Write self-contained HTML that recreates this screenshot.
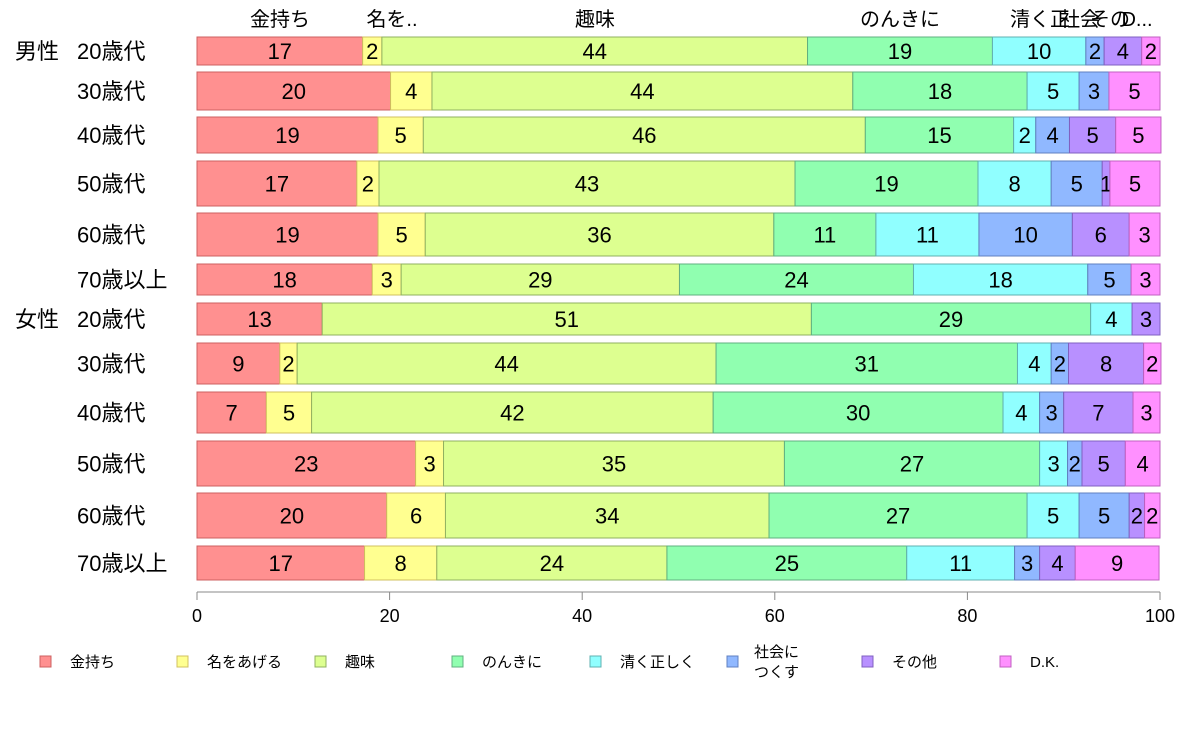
<!DOCTYPE html>
<html><head><meta charset="utf-8">
<style>
body{margin:0;background:#fff;}
svg text{font-family:"Liberation Sans","Noto Sans CJK JP",sans-serif;}
</style></head>
<body>
<svg id="chart" width="1188" height="736" viewBox="0 0 1188 736" xmlns="http://www.w3.org/2000/svg"></svg>
<script>
const categories = ["金持ち","名をあげる","趣味","のんきに","清く正しく","社会につくす","その他","D.K."];
const rowLabels = ["20歳代","30歳代","40歳代","50歳代","60歳代","70歳以上","20歳代","30歳代","40歳代","50歳代","60歳代","70歳以上"];
const groupLabels = ["男性","","","","","","女性","","","","",""];
const s1 = [17.2,20.1,18.8,16.6,18.8,18.2,13.0,8.6,7.2,22.7,19.7,17.4];
const s2 = [2.0,4.3,4.7,2.3,4.9,3.0,0,1.8,4.7,2.9,6.1,7.5];
const s3 = [44.2,43.7,45.9,43.2,36.2,28.9,50.8,43.5,41.7,35.4,33.6,23.9];
const s4 = [19.2,18.1,15.4,19.0,10.6,24.3,29.0,31.3,30.1,26.5,26.8,24.9];
const s5 = [9.7,5.4,2.3,7.6,10.7,18.1,4.3,3.5,3.8,2.9,5.4,11.2];
const s6 = [1.9,3.1,3.5,5.3,9.7,4.5,0,1.8,2.5,1.5,5.2,2.6];
const s7 = [3.9,0,4.8,0.8,5.9,0,2.9,7.8,7.2,4.5,1.6,3.7];
const s8 = [1.9,5.3,4.7,5.2,3.2,3.0,0,1.8,2.8,3.6,1.6,8.7];
const rowTops = [37,72,117,161,213,264,303,343,392,441,493,546];
const rowBottoms = [65,110,153,206,256,295,335,384,433,486,538,580];
const xTicks = [0,20,40,60,80,100];
const topLabels = ["金持ち","名を..","趣味","のんきに","清く正","社会","その","D..."];
const topLabelX = [280,392,595,900,1040,1080,1110,1137];
const series = [s1,s2,s3,s4,s5,s6,s7,s8];
const fills = ["#ff9090","#ffff90","#ddff90","#90ffb0","#90ffff","#90b8ff","#b890ff","#ff90ff"];
const strokes = ["#cc6060","#d0c060","#90b060","#60b080","#60b0b0","#6080c0","#8060c0","#c060c0"];
const NS="http://www.w3.org/2000/svg";
const svg=document.getElementById('chart');
const X0=197,X1=1160;
const xs=v=>X0+(X1-X0)*v/100;
function mk(tag,attrs,txt){const e=document.createElementNS(NS,tag);for(const k in attrs)e.setAttribute(k,attrs[k]);if(txt!==undefined)e.textContent=txt;svg.appendChild(e);return e;}
for(let r=0;r<rowLabels.length;r++){
  let acc=0;
  const y0=rowTops[r],y1=rowBottoms[r],cy=(y0+y1)/2;
  for(let c=0;c<series.length;c++){
    const v=series[c][r];
    if(v>0){
      const rect=mk('rect',{x:xs(acc),y:y0,width:xs(acc+v)-xs(acc),height:y1-y0,fill:fills[c],stroke:strokes[c],'stroke-width':1});
      
      
      const t=mk('text',{x:(xs(acc)+xs(acc+v))/2,y:cy+8,'font-size':22,'text-anchor':'middle',fill:'#000'},String(Math.round(v)));
      
      
    }
    acc+=v;
  }
  const rl=mk('text',{x:77,y:cy+8,'font-size':22,fill:'#000'},rowLabels[r]);
  
  
  if(groupLabels[r]){
    const gl=mk('text',{x:15,y:cy+8,'font-size':22,fill:'#000'},groupLabels[r]);
    
    
  }
}
for(let i=0;i<topLabels.length;i++){
  const t=mk('text',{x:topLabelX[i],y:26,'font-size':20,'text-anchor':'middle',fill:'#000'},topLabels[i]);
  
  
}
const ax=mk('line',{x1:X0,x2:X1,y1:592,y2:592,stroke:'#888','stroke-width':1});


xTicks.forEach(v=>{
  const tk=mk('line',{x1:xs(v),x2:xs(v),y1:592,y2:600,stroke:'#888'});
  
  
  const tl=mk('text',{x:xs(v),y:622,'font-size':18,'text-anchor':'middle',fill:'#000'},String(v));
  
  
});
const legX=[40,177,315,452,590,727,862,1000];
categories.forEach((c,i)=>{
  const sq=mk('rect',{x:legX[i],y:656,width:11,height:11,fill:fills[i],stroke:strokes[i]});
  
  
  if(c==="社会につくす"){
    const t1=mk('text',{x:legX[i]+27,y:657,'font-size':15,fill:'#000'},'社会に');
    
    
    const t2=mk('text',{x:legX[i]+27,y:677,'font-size':15,fill:'#000'},'つくす');
    
    
  } else {
    const t=mk('text',{x:legX[i]+30,y:667,'font-size':15,fill:'#000'},c);
    
    
  }
});
</script>
</body></html>
